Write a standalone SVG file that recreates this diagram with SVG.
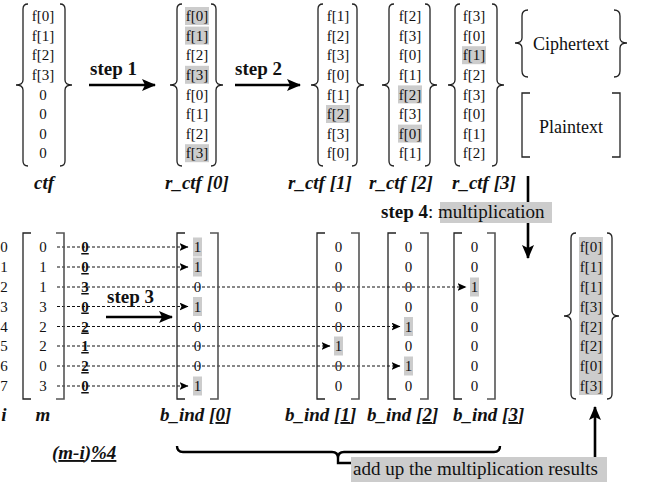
<svg xmlns="http://www.w3.org/2000/svg" width="646" height="485" viewBox="0 0 646 485" font-family="Liberation Serif, DejaVu Serif, serif">
<style>
.v{font-family:'Liberation Serif',serif;font-size:15px;fill:#111;text-anchor:middle}
.u{font-family:'Liberation Serif',serif;font-size:15px;font-weight:bold;fill:#111;text-anchor:middle;text-decoration:underline}
.lb{font-family:'Liberation Serif',serif;font-size:19px;font-weight:bold;font-style:italic;fill:#111}
.st{font-family:'Liberation Serif',serif;font-size:19px;font-weight:bold;fill:#111}
.tx{font-family:'Liberation Serif',serif;font-size:19px;fill:#111}
.br{fill:none;stroke:#222;stroke-width:1.3}
.hl{fill:#cccccc}
.ds{fill:none;stroke:#111;stroke-width:1;stroke-dasharray:3 2}
.ar{fill:none;stroke:#000;stroke-width:2.6}
</style>
<defs>
<marker id="big" markerUnits="userSpaceOnUse" markerWidth="14" markerHeight="12" refX="13" refY="6" orient="auto"><path d="M0,0 L14,6 L0,12 L3,6 Z" fill="#000"/></marker>
<marker id="sm" markerUnits="userSpaceOnUse" markerWidth="9" markerHeight="8" refX="8.5" refY="4" orient="auto"><path d="M0,0 L9,4 L0,8 L2,4 Z" fill="#000"/></marker>
</defs>

<g id="ctf">
<path class="br" d="M28,4 Q23,4 23,9 L23,80 Q23,85 16,85 Q23,85 23,90 L23,161 Q23,166 28,166"/>
<path class="br" d="M60,4 Q65,4 65,9 L65,80 Q65,85 72,85 Q65,85 65,90 L65,161 Q65,166 60,166"/>
<text class="v" x="43" y="21">f[0]</text><text class="v" x="43" y="40.5">f[1]</text><text class="v" x="43" y="60">f[2]</text><text class="v" x="43" y="80">f[3]</text>
<text class="v" x="43" y="99.5">0</text><text class="v" x="43" y="119">0</text><text class="v" x="43" y="138.5">0</text><text class="v" x="43" y="158">0</text>
<text class="lb" x="34" y="189">ctf</text>
</g>

<g id="r_ctf0">
<rect class="hl" x="185" y="7" width="24" height="18"/><rect class="hl" x="185" y="26.6" width="24" height="18"/><rect class="hl" x="185" y="65.8" width="24" height="18"/><rect class="hl" x="185" y="144.2" width="24" height="18"/>
<path class="br" d="M182,4 Q177,4 177,9 L177,80 Q177,85 170,85 Q177,85 177,90 L177,161 Q177,166 182,166"/>
<path class="br" d="M211,4 Q216,4 216,9 L216,80 Q216,85 223,85 Q216,85 216,90 L216,161 Q216,166 211,166"/>
<text class="v" x="197" y="21">f[0]</text><text class="v" x="197" y="40.5">f[1]</text><text class="v" x="197" y="60">f[2]</text><text class="v" x="197" y="80">f[3]</text>
<text class="v" x="197" y="99.5">f[0]</text><text class="v" x="197" y="119">f[1]</text><text class="v" x="197" y="138.5">f[2]</text><text class="v" x="197" y="158">f[3]</text>
<text class="lb" x="165" y="189">r_ctf [0]</text>
</g>

<g id="r_ctf1">
<rect class="hl" x="326" y="105" width="24" height="18"/>
<path class="br" d="M323,4 Q318,4 318,9 L318,80 Q318,85 311,85 Q318,85 318,90 L318,161 Q318,166 323,166"/>
<path class="br" d="M352,4 Q357,4 357,9 L357,80 Q357,85 364,85 Q357,85 357,90 L357,161 Q357,166 352,166"/>
<text class="v" x="338" y="21">f[1]</text><text class="v" x="338" y="40.5">f[2]</text><text class="v" x="338" y="60">f[3]</text><text class="v" x="338" y="80">f[0]</text>
<text class="v" x="338" y="99.5">f[1]</text><text class="v" x="338" y="119">f[2]</text><text class="v" x="338" y="138.5">f[3]</text><text class="v" x="338" y="158">f[0]</text>
<text class="lb" x="288" y="189">r_ctf [1]</text>
</g>

<g id="r_ctf2">
<rect class="hl" x="398" y="85.4" width="24" height="18"/><rect class="hl" x="398" y="124.6" width="24" height="18"/>
<path class="br" d="M394,4 Q389,4 389,9 L389,80 Q389,85 382,85 Q389,85 389,90 L389,161 Q389,166 394,166"/>
<path class="br" d="M425,4 Q430,4 430,9 L430,80 Q430,85 437,85 Q430,85 430,90 L430,161 Q430,166 425,166"/>
<text class="v" x="410" y="21">f[2]</text><text class="v" x="410" y="40.5">f[3]</text><text class="v" x="410" y="60">f[0]</text><text class="v" x="410" y="80">f[1]</text>
<text class="v" x="410" y="99.5">f[2]</text><text class="v" x="410" y="119">f[3]</text><text class="v" x="410" y="138.5">f[0]</text><text class="v" x="410" y="158">f[1]</text>
<text class="lb" x="369" y="189">r_ctf [2]</text>
</g>

<g id="r_ctf3">
<rect class="hl" x="462" y="46.2" width="24" height="18"/>
<path class="br" d="M460,4 Q455,4 455,9 L455,80 Q455,85 448,85 Q455,85 455,90 L455,161 Q455,166 460,166"/>
<path class="br" d="M492,4 Q497,4 497,9 L497,80 Q497,85 504,85 Q497,85 497,90 L497,161 Q497,166 492,166"/>
<text class="v" x="474" y="21">f[3]</text><text class="v" x="474" y="40.5">f[0]</text><text class="v" x="474" y="60">f[1]</text><text class="v" x="474" y="80">f[2]</text>
<text class="v" x="474" y="99.5">f[3]</text><text class="v" x="474" y="119">f[0]</text><text class="v" x="474" y="138.5">f[1]</text><text class="v" x="474" y="158">f[2]</text>
<text class="lb" x="452" y="189">r_ctf [3]</text>
</g>

<g id="legend_cipher">
<path class="br" d="M528,10 Q522,10 522,16 L522,38 Q522,43 515,43 Q522,43 522,48 L522,71 Q522,77 528,77"/>
<path class="br" d="M614,10 Q620,10 620,16 L620,38 Q620,43 627,43 Q620,43 620,48 L620,71 Q620,77 614,77"/>
<text class="tx" x="571" y="50" text-anchor="middle" style="font-size:18px">Ciphertext</text>
</g>
<g id="legend_plain">
<path class="br" d="M530,93 H522 V157 H530"/>
<path class="br" d="M612,93 H620 V157 H612"/>
<text class="tx" x="571" y="133" text-anchor="middle" style="font-size:18px">Plaintext</text>
</g>

<g id="i_col">
<text class="v" x="4" y="252">0</text><text class="v" x="4" y="272">1</text><text class="v" x="4" y="292">2</text><text class="v" x="4" y="311.5">3</text>
<text class="v" x="4" y="331.5">4</text><text class="v" x="4" y="351">5</text><text class="v" x="4" y="371">6</text><text class="v" x="4" y="391">7</text>
<text class="lb" x="4" y="421" text-anchor="middle">i</text>
</g>

<g id="connectors">
<line class="ar" x1="89" y1="85" x2="155" y2="85" marker-end="url(#big)"/>
<line class="ar" x1="235" y1="85" x2="300" y2="85" marker-end="url(#big)"/>
<line class="ar" x1="106" y1="317" x2="172" y2="317" marker-end="url(#big)"/>
<line class="ar" x1="528" y1="176" x2="528" y2="258" marker-end="url(#big)"/>
<line class="ar" x1="595" y1="458" x2="595" y2="407" marker-end="url(#big)"/>
<line class="ds" x1="57" y1="247" x2="188" y2="247" marker-end="url(#sm)"/>
<line class="ds" x1="57" y1="267" x2="188" y2="267" marker-end="url(#sm)"/>
<line class="ds" x1="57" y1="287" x2="466" y2="287" marker-end="url(#sm)"/>
<line class="ds" x1="57" y1="306.5" x2="188" y2="306.5" marker-end="url(#sm)"/>
<line class="ds" x1="57" y1="326.5" x2="400" y2="326.5" marker-end="url(#sm)"/>
<line class="ds" x1="57" y1="346" x2="330" y2="346" marker-end="url(#sm)"/>
<line class="ds" x1="57" y1="366" x2="400" y2="366" marker-end="url(#sm)"/>
<line class="ds" x1="57" y1="386" x2="188" y2="386" marker-end="url(#sm)"/>
<path class="ar" d="M177,446 Q177,452 183,452 L332,452 Q338,452 338,458 L338,463 L352,463 M338,458 Q338,452 344,452 L494,452 Q500,452 500,446" style="stroke-width:2.4"/>
</g>

<g id="step_labels">
<text class="st" x="90" y="75">step 1</text>
<text class="st" x="235" y="75">step 2</text>
<text class="st" x="107" y="303">step 3</text>
<rect class="hl" x="440" y="202" width="112" height="21"/>
<text class="st" x="381" y="218">step 4<tspan class="tx" style="font-weight:normal">: multiplication</tspan></text>
<rect class="hl" x="351" y="457" width="256" height="25"/>
<text class="tx" x="353" y="475">add up the multiplication results</text>
<text class="lb" x="52" y="459">(<tspan text-decoration="underline">m-i</tspan>)<tspan text-decoration="underline">%4</tspan></text>
</g>

<g id="m">
<path class="br" d="M31,233 H23 V399 H31"/>
<path class="br" d="M56,233 H64 V399 H56" style="stroke:#555;stroke-width:1.6"/>
<text class="v" x="43" y="252">0</text><text class="v" x="43" y="272">1</text><text class="v" x="43" y="292">1</text><text class="v" x="43" y="311.5">3</text>
<text class="v" x="43" y="331.5">2</text><text class="v" x="43" y="351">2</text><text class="v" x="43" y="371">0</text><text class="v" x="43" y="391">3</text>
<text class="lb" x="43" y="421" text-anchor="middle">m</text>
</g>

<g id="mi_col">
<text class="u" x="85" y="252">0</text><text class="u" x="85" y="272">0</text><text class="u" x="85" y="292">3</text><text class="u" x="85" y="311.5">0</text>
<text class="u" x="85" y="331.5">2</text><text class="u" x="85" y="351">1</text><text class="u" x="85" y="371">2</text><text class="u" x="85" y="391">0</text>
</g>

<g id="b_ind0">
<rect class="hl" x="193" y="237.5" width="9" height="19"/><rect class="hl" x="193" y="257.5" width="9" height="19"/><rect class="hl" x="193" y="297" width="9" height="19"/><rect class="hl" x="193" y="376.5" width="9" height="19"/>
<path class="br" d="M185,233 H177 V399 H185"/>
<path class="br" d="M210,233 H218 V399 H210" style="stroke:#555;stroke-width:1.6"/>
<text class="v" x="197.5" y="252">1</text><text class="v" x="197.5" y="272">1</text><text class="v" x="197.5" y="292">0</text><text class="v" x="197.5" y="311.5">1</text>
<text class="v" x="197.5" y="331.5">0</text><text class="v" x="197.5" y="351">0</text><text class="v" x="197.5" y="371">0</text><text class="v" x="197.5" y="391">1</text>
<text class="lb" x="160" y="421">b_ind [<tspan text-decoration="underline">0</tspan>]</text>
</g>

<g id="b_ind1">
<rect class="hl" x="334" y="336.5" width="9" height="19"/>
<path class="br" d="M325,233 H317 V399 H325"/>
<path class="br" d="M351,233 H359 V399 H351" style="stroke:#555;stroke-width:1.6"/>
<text class="v" x="338.5" y="252">0</text><text class="v" x="338.5" y="272">0</text><text class="v" x="338.5" y="292">0</text><text class="v" x="338.5" y="311.5">0</text>
<text class="v" x="338.5" y="331.5">0</text><text class="v" x="338.5" y="351">1</text><text class="v" x="338.5" y="371">0</text><text class="v" x="338.5" y="391">0</text>
<text class="lb" x="285" y="421">b_ind [<tspan text-decoration="underline">1</tspan>]</text>
</g>

<g id="b_ind2">
<rect class="hl" x="404" y="317" width="9" height="19"/><rect class="hl" x="404" y="356.5" width="9" height="19"/>
<path class="br" d="M396,233 H388 V399 H396"/>
<path class="br" d="M420,233 H428 V399 H420" style="stroke:#555;stroke-width:1.6"/>
<text class="v" x="408.5" y="252">0</text><text class="v" x="408.5" y="272">0</text><text class="v" x="408.5" y="292">0</text><text class="v" x="408.5" y="311.5">0</text>
<text class="v" x="408.5" y="331.5">1</text><text class="v" x="408.5" y="351">0</text><text class="v" x="408.5" y="371">1</text><text class="v" x="408.5" y="391">0</text>
<text class="lb" x="367" y="421">b_ind [<tspan text-decoration="underline">2</tspan>]</text>
</g>

<g id="b_ind3">
<rect class="hl" x="470" y="277.5" width="9" height="19"/>
<path class="br" d="M462,233 H454 V399 H462"/>
<path class="br" d="M487,233 H495 V399 H487" style="stroke:#555;stroke-width:1.6"/>
<text class="v" x="474.5" y="252">0</text><text class="v" x="474.5" y="272">0</text><text class="v" x="474.5" y="292">1</text><text class="v" x="474.5" y="311.5">0</text>
<text class="v" x="474.5" y="331.5">0</text><text class="v" x="474.5" y="351">0</text><text class="v" x="474.5" y="371">0</text><text class="v" x="474.5" y="391">0</text>
<text class="lb" x="453" y="421">b_ind [<tspan text-decoration="underline">3</tspan>]</text>
</g>

<g id="result">
<rect class="hl" x="579" y="237" width="24" height="158"/>
<path class="br" d="M576,233 Q571,233 571,238 L571,311 Q571,316 564,316 Q571,316 571,321 L571,394 Q571,399 576,399"/>
<path class="br" d="M607,233 Q612,233 612,238 L612,311 Q612,316 619,316 Q612,316 612,321 L612,394 Q612,399 607,399"/>
<text class="v" x="591" y="252">f[0]</text><text class="v" x="591" y="272">f[1]</text><text class="v" x="591" y="292">f[1]</text><text class="v" x="591" y="311.5">f[3]</text>
<text class="v" x="591" y="331.5">f[2]</text><text class="v" x="591" y="351">f[2]</text><text class="v" x="591" y="371">f[0]</text><text class="v" x="591" y="391">f[3]</text>
</g>
</svg>
